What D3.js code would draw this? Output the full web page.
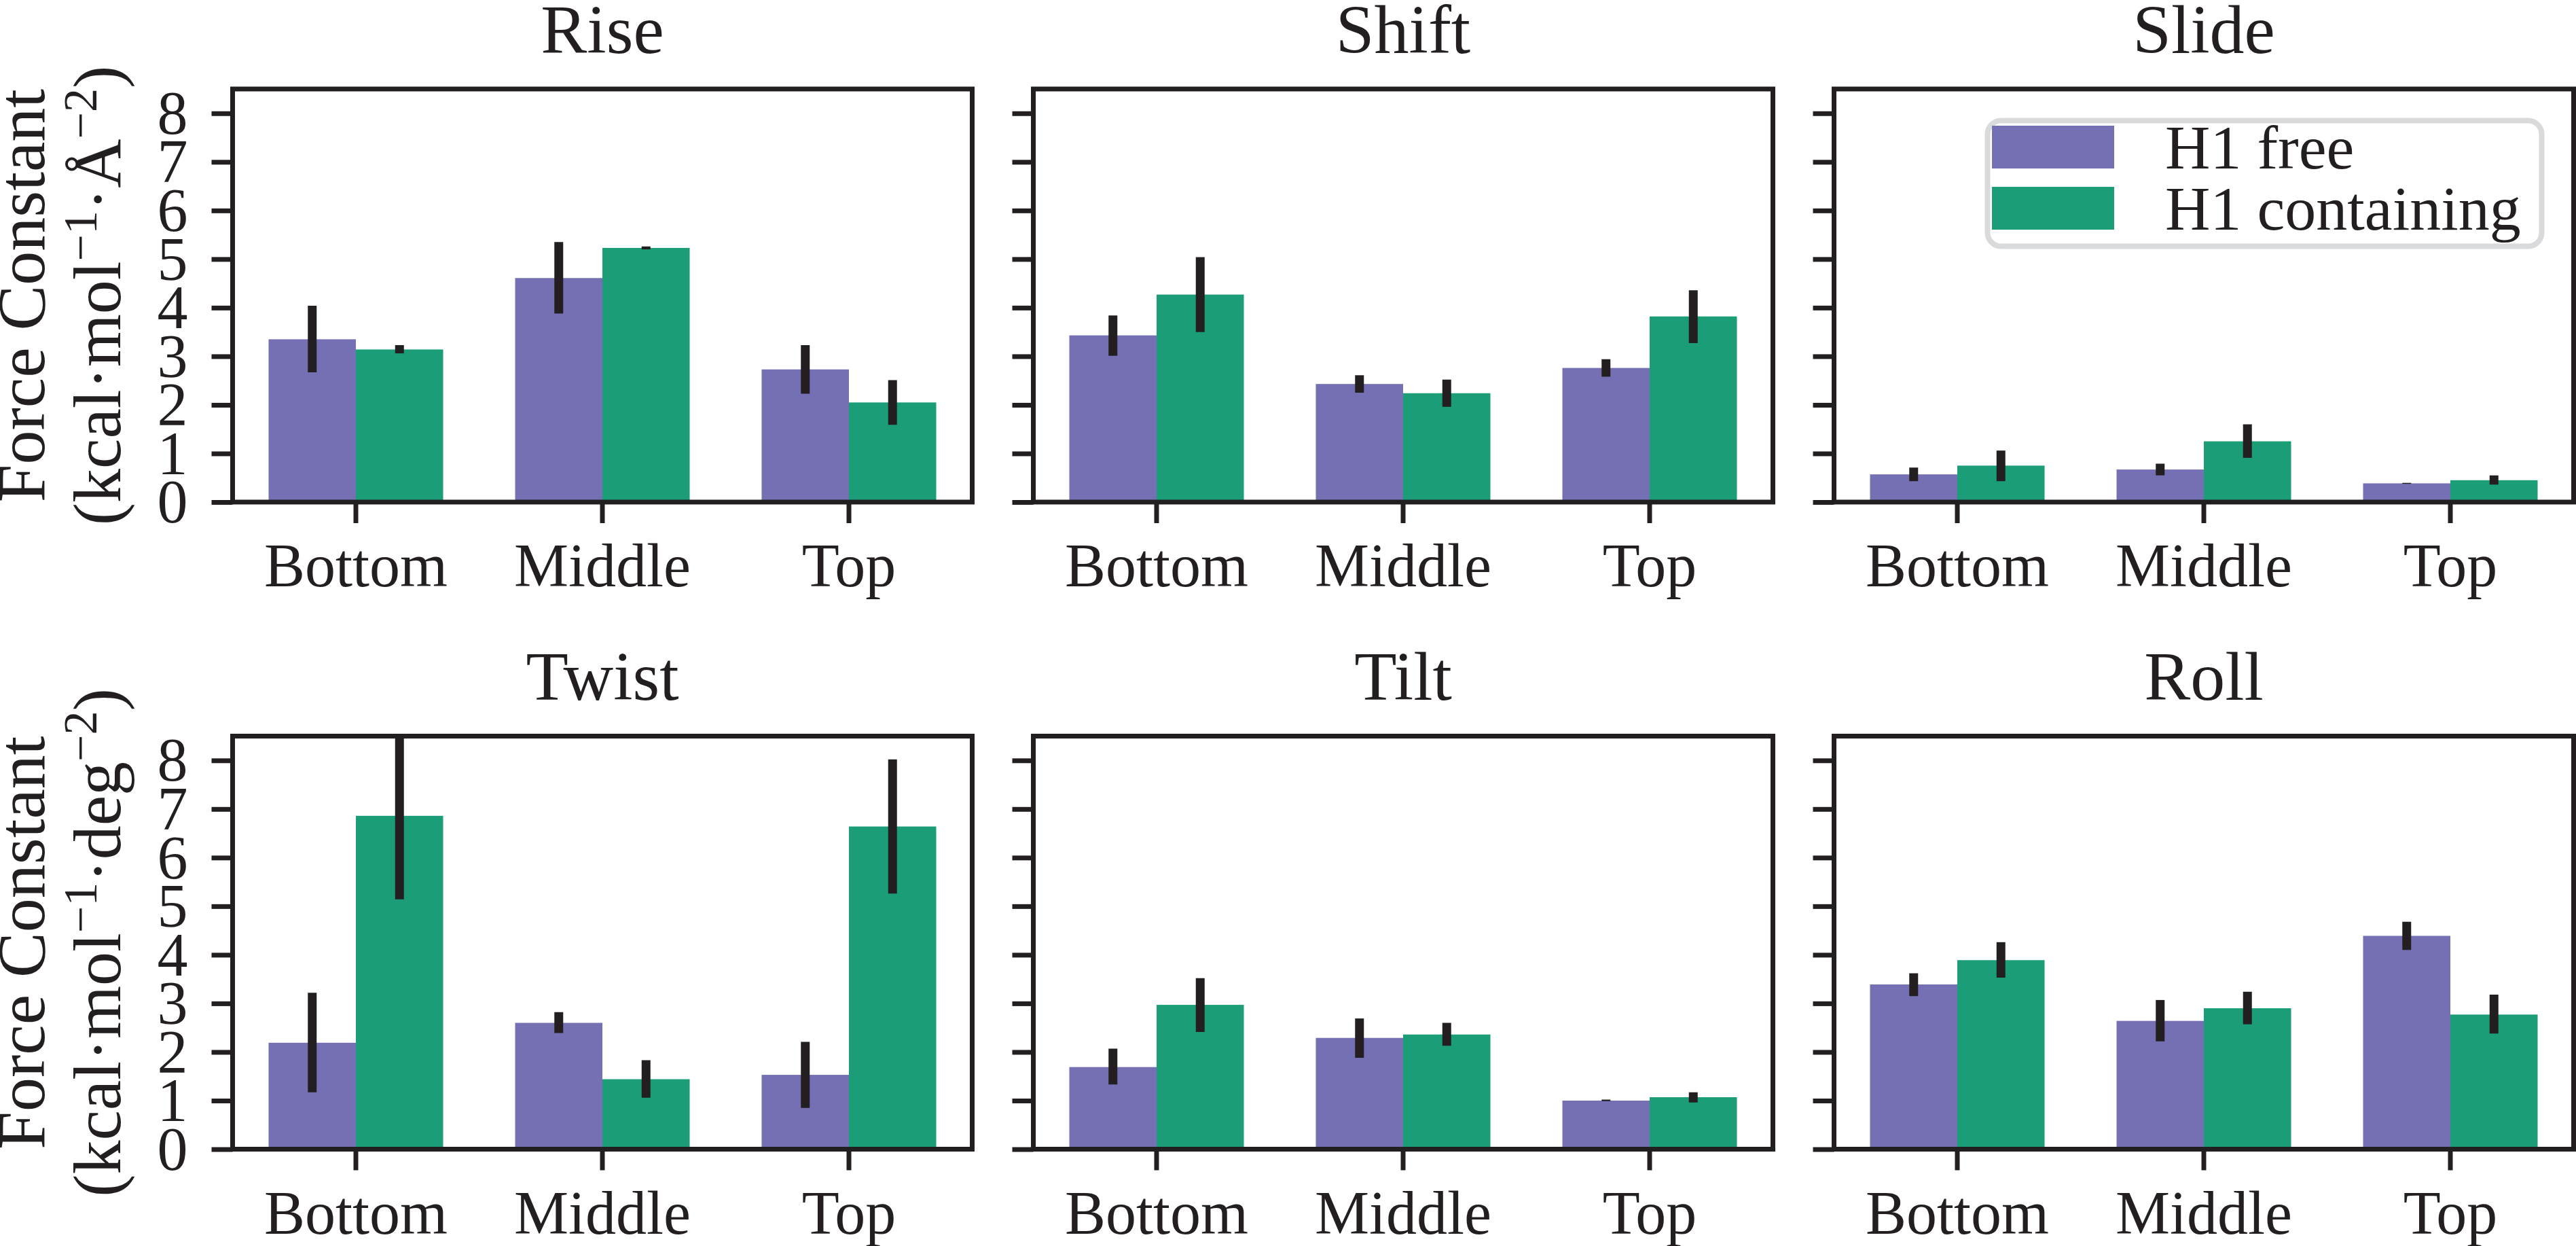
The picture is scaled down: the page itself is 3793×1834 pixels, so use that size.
<!DOCTYPE html>
<html>
<head>
<meta charset="utf-8">
<script src="https://cdn.jsdelivr.net/npm/d3@7/dist/d3.min.js"></script>
<style>
  html, body { margin: 0; padding: 0; background: #ffffff; }
  svg { display: block; }
  svg text { font-family: "Liberation Serif", "DejaVu Serif", serif; }
</style>
</head>
<body>
<svg id="chart" width="3793" height="1834"></svg>
<script>
// ---------------- data ----------------
const categories = ["Bottom", "Middle", "Top"];
const seriesNames = ["H1 free", "H1 containing"];
const panelTitles = ["Rise", "Shift", "Slide", "Twist", "Tilt", "Roll"];
const yTickValues = [0, 1, 2, 3, 4, 5, 6, 7, 8];
const yTickLabels = ["0", "1", "2", "3", "4", "5", "6", "7", "8"];

const riseFree = [3.35, 4.61, 2.73];
const riseFreeCI = [[2.67, 4.04], [3.88, 5.35], [2.23, 3.23]];
const riseCont = [3.14, 5.23, 2.05];
const riseContCI = [[3.06, 3.23], [5.20, 5.26], [1.59, 2.51]];

const shiftFree = [3.43, 2.43, 2.76];
const shiftFreeCI = [[3.01, 3.84], [2.25, 2.61], [2.58, 2.94]];
const shiftCont = [4.27, 2.24, 3.82];
const shiftContCI = [[3.50, 5.04], [1.96, 2.52], [3.27, 4.36]];

const slideFree = [0.57, 0.67, 0.385];
const slideFreeCI = [[0.43, 0.71], [0.55, 0.79], [0.375, 0.395]];
const slideCont = [0.75, 1.25, 0.45];
const slideContCI = [[0.43, 1.06], [0.91, 1.60], [0.36, 0.55]];

const twistFree = [2.19, 2.60, 1.53];
const twistFreeCI = [[1.17, 3.22], [2.39, 2.82], [0.85, 2.21]];
const twistCont = [6.86, 1.44, 6.64];
const twistContCI = [[5.14, 8.60], [1.06, 1.83], [5.26, 8.02]];

const tiltFree = [1.69, 2.29, 1.00];
const tiltFreeCI = [[1.33, 2.07], [1.88, 2.69], [0.99, 1.02]];
const tiltCont = [2.97, 2.36, 1.07];
const tiltContCI = [[2.41, 3.52], [2.13, 2.60], [0.96, 1.17]];

const rollFree = [3.39, 2.64, 4.39];
const rollFreeCI = [[3.15, 3.62], [2.22, 3.07], [4.10, 4.68]];
const rollCont = [3.89, 2.90, 2.77];
const rollContCI = [[3.53, 4.26], [2.57, 3.24], [2.38, 3.18]];

const yLabelLine1 = "Force Constant";
const yLabelUnitsTop = ["(kcal·mol", "−1", "·Å", "−2", ")"];
const yLabelUnitsBottom = ["(kcal·mol", "−1", "·deg", "−2", ")"];

// ---------------- layout / style ----------------
const dark = "#231f20";
const colors = ["#7570b3", "#1b9e77"];
const panelW = 1089, panelH = 608;
const colX = [342.5, 1521.5, 2700.5];
const rowY = [131, 1083.5];
const groupFrac = 0.708;
const tickFont = 90, titleFont = 102, labelFont = 100, legendFont = 92;

const panels = [
  { title: panelTitles[0], free: riseFree, freeCI: riseFreeCI, cont: riseCont, contCI: riseContCI },
  { title: panelTitles[1], free: shiftFree, freeCI: shiftFreeCI, cont: shiftCont, contCI: shiftContCI },
  { title: panelTitles[2], free: slideFree, freeCI: slideFreeCI, cont: slideCont, contCI: slideContCI },
  { title: panelTitles[3], free: twistFree, freeCI: twistFreeCI, cont: twistCont, contCI: twistContCI },
  { title: panelTitles[4], free: tiltFree, freeCI: tiltFreeCI, cont: tiltCont, contCI: tiltContCI },
  { title: panelTitles[5], free: rollFree, freeCI: rollFreeCI, cont: rollCont, contCI: rollContCI }
];

const svg = d3.select("#chart");
svg.append("rect").attr("width", 3793).attr("height", 1834).attr("fill", "#ffffff");

const y = d3.scaleLinear().domain([0, 8.5]).range([panelH, 0]);
const x = d3.scaleBand().domain(categories).range([0, panelW]).paddingInner(0).paddingOuter(0);
const gw = x.step() * groupFrac;
const xs = d3.scaleBand().domain(seriesNames).range([-gw / 2, gw / 2]);

const defs = svg.append("defs");

panels.forEach((p, i) => {
  const r = Math.floor(i / 3), c = i % 3;
  const g = svg.append("g").attr("transform", `translate(${colX[c]},${rowY[r]})`);

  defs.append("clipPath").attr("id", "clip" + i)
    .append("rect").attr("x", 0).attr("y", 0).attr("width", panelW).attr("height", panelH);

  const plot = g.append("g").attr("clip-path", `url(#clip${i})`);

  const rows = [];
  categories.forEach((cat, j) => {
    rows.push({ cat, s: seriesNames[0], v: p.free[j], ci: p.freeCI[j], col: colors[0] });
    rows.push({ cat, s: seriesNames[1], v: p.cont[j], ci: p.contCI[j], col: colors[1] });
  });

  plot.selectAll("rect.bar").data(rows).enter().append("rect")
    .attr("class", "bar")
    .attr("x", d => x(d.cat) + x.bandwidth() / 2 + xs(d.s))
    .attr("width", xs.bandwidth())
    .attr("y", d => y(d.v))
    .attr("height", d => y(0) - y(d.v))
    .attr("fill", d => d.col);

  plot.selectAll("line.err").data(rows).enter().append("line")
    .attr("class", "err")
    .attr("x1", d => x(d.cat) + x.bandwidth() / 2 + xs(d.s) + xs.bandwidth() / 2)
    .attr("x2", d => x(d.cat) + x.bandwidth() / 2 + xs(d.s) + xs.bandwidth() / 2)
    .attr("y1", d => y(d.ci[0]))
    .attr("y2", d => y(d.ci[1]))
    .attr("stroke", dark)
    .attr("stroke-width", 13);

  // y axis
  const yAxis = d3.axisLeft(y).tickValues(yTickValues).tickSize(31).tickPadding(35)
    .tickFormat((d, k) => c === 0 ? yTickLabels[k] : "");
  const ya = g.append("g").call(yAxis);
  ya.attr("font-family", null).attr("font-size", null);
  ya.select(".domain").remove();
  ya.selectAll("line").attr("stroke", dark).attr("stroke-width", 7);
  ya.selectAll("text").attr("fill", dark).style("font-size", tickFont + "px")
    .attr("dy", "0.33em");

  // x axis
  const xAxis = d3.axisBottom(x).tickSize(31);
  const xa = g.append("g").attr("transform", `translate(0,${panelH})`).call(xAxis);
  xa.attr("font-family", null).attr("font-size", null);
  xa.select(".domain").remove();
  xa.selectAll("line").attr("stroke", dark).attr("stroke-width", 7);
  xa.selectAll("text").attr("fill", dark).style("font-size", tickFont + "px")
    .attr("y", 124).attr("dy", 0);

  // frame
  g.append("rect").attr("x", 0).attr("y", 0).attr("width", panelW).attr("height", panelH)
    .attr("fill", "none").attr("stroke", dark).attr("stroke-width", 7);

  // title
  g.append("text").attr("x", panelW / 2).attr("y", -53.5)
    .attr("text-anchor", "middle").style("font-size", titleFont + "px")
    .attr("fill", dark).text(p.title);

  // y label
  if (c === 0) {
    const units = r === 0 ? yLabelUnitsTop : yLabelUnitsBottom;
    const lg = g.append("g");
    lg.append("text")
      .attr("transform", `translate(${65 - colX[0]},${panelH / 2}) rotate(-90)`)
      .attr("text-anchor", "middle").style("font-size", labelFont + "px")
      .attr("fill", dark).text(yLabelLine1);
    const t2 = lg.append("text")
      .attr("transform", `translate(${177 - colX[0]},${panelH / 2}) rotate(-90)`)
      .attr("text-anchor", "middle").style("font-size", labelFont + "px")
      .attr("fill", dark);
    units.forEach((u, k) => {
      const sup = k % 2 === 1;
      const ts = t2.append("tspan").text(u);
      if (sup) ts.style("font-size", "70px").attr("dy", -35);
      else if (k > 0) ts.attr("dy", 35);
    });
  }

  // legend in Slide panel
  if (i === 2) {
    const leg = g.append("g");
    leg.append("rect").attr("x", 226).attr("y", 46.5).attr("width", 816).attr("height", 185)
      .attr("rx", 20).attr("fill", "#ffffff").attr("fill-opacity", 0.8)
      .attr("stroke", "#d9dadc").attr("stroke-width", 8);
    seriesNames.forEach((s, k) => {
      leg.append("rect").attr("x", 232.5).attr("y", 54 + k * 90).attr("width", 180).attr("height", 63)
        .attr("fill", colors[k]);
      leg.append("text").attr("x", 487.5).attr("y", 117 + k * 89.5)
        .style("font-size", legendFont + "px").attr("fill", dark).text(s);
    });
  }
});
</script>
</body>
</html>
